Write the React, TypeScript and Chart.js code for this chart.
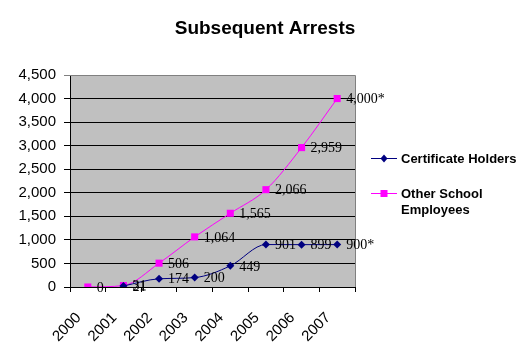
import React, { useEffect, useRef } from "react";
import { Chart, registerables } from "chart.js";

Chart.register(...registerables);

const title = "Subsequent Arrests";
const years = ["2000", "2001", "2002", "2003", "2004", "2005", "2006", "2007"];
const certHolders: (number | null)[] = [null, 21, 174, 200, 449, 901, 899, 900];
const otherEmployees: (number | null)[] = [0, 31, 506, 1064, 1565, 2066, 2959, 4000];
const certNotes = ["", "", "", "", "", "", "", "*"];
const otherNotes = ["", "", "", "", "", "", "", "*"];
const seriesNames = ["Certificate Holders", "Other School Employees"];
const legendLines = [["Certificate Holders"], ["Other School", "Employees"]];
const yMin = 0;
const yMax = 4500;
const yStep = 500;

const NAVY = "#000080";
const MAGENTA = "#FF00FF";
const SANS = '"Liberation Sans", Arial, sans-serif';
const SERIF = '"Liberation Serif", "Times New Roman", serif';

const fmt = (v: number) => v.toLocaleString("en-US");

const decorPlugin = {
  id: "decor",
  beforeDraw(chart: any) {
    const { ctx, chartArea } = chart;
    ctx.save();
    ctx.fillStyle = "#C0C0C0";
    ctx.fillRect(chartArea.left, chartArea.top, chartArea.right - chartArea.left, chartArea.bottom - chartArea.top);
    ctx.restore();
  },
  afterDatasetsDraw(chart: any) {
    const { ctx, chartArea } = chart;
    ctx.save();
    // top and right border
    ctx.strokeStyle = "#808080";
    ctx.lineWidth = 1;
    ctx.beginPath();
    ctx.moveTo(chartArea.left, chartArea.top + 0.5);
    ctx.lineTo(chartArea.right + 0.5, chartArea.top + 0.5);
    ctx.lineTo(chartArea.right + 0.5, chartArea.bottom);
    ctx.stroke();

    // data labels
    ctx.font = `14px ${SERIF}`;
    ctx.fillStyle = "#000";
    ctx.textAlign = "left";
    ctx.textBaseline = "middle";
    const notes = [certNotes, otherNotes];
    chart.data.datasets.forEach((ds: any, di: number) => {
      const meta = chart.getDatasetMeta(di);
      meta.data.forEach((pt: any, i: number) => {
        const v = ds.data[i];
        if (v === null || v === undefined) return;
        ctx.fillText(fmt(v) + notes[di][i], pt.x + 9, pt.y + 1);
      });
    });

    // title
    ctx.font = `bold 19px ${SANS}`;
    ctx.textAlign = "center";
    ctx.fillText(title, 265, 29);

    // legend
    const colors = [NAVY, MAGENTA];
    const styles = ["rectRot", "rect"];
    const ys = [158, 193];
    ctx.font = `bold 13px ${SANS}`;
    ctx.textAlign = "left";
    legendLines.forEach((lines, k) => {
      const y = ys[k];
      ctx.strokeStyle = colors[k];
      ctx.lineWidth = 1;
      ctx.beginPath();
      ctx.moveTo(371, y + 0.5);
      ctx.lineTo(397, y + 0.5);
      ctx.stroke();
      ctx.fillStyle = colors[k];
      if (styles[k] === "rect") {
        ctx.fillRect(384 - 3.5, y - 3, 7, 7);
      } else {
        ctx.beginPath();
        ctx.moveTo(384, y - 3.5);
        ctx.lineTo(387.5, y + 0.5);
        ctx.lineTo(384, y + 4.5);
        ctx.lineTo(380.5, y + 0.5);
        ctx.closePath();
        ctx.fill();
      }
      ctx.fillStyle = "#000";
      lines.forEach((line, j) => {
        ctx.fillText(line, 401, y + 1 + j * 16);
      });
    });
    ctx.restore();
  },
};

export default function App() {
  const ref = useRef<HTMLCanvasElement>(null);
  useEffect(() => {
    document.body.style.margin = "0";
    const canvas = ref.current!;
    const chart = new Chart(canvas, {
      type: "line",
      data: {
        labels: years,
        datasets: [
          {
            label: seriesNames[0],
            data: certHolders,
            borderColor: NAVY,
            backgroundColor: NAVY,
            borderWidth: 1,
            pointStyle: "rectRot",
            pointRadius: 4,
            pointBorderWidth: 0,
            cubicInterpolationMode: "monotone",
            spanGaps: false,
          },
          {
            label: seriesNames[1],
            data: otherEmployees,
            borderColor: MAGENTA,
            backgroundColor: MAGENTA,
            borderWidth: 1,
            pointStyle: "rect",
            pointRadius: 5,
            pointBorderWidth: 0,
            cubicInterpolationMode: "monotone",
          },
        ],
      },
      options: {
        responsive: false,
        animation: false,
        layout: { padding: { left: 0, right: 175, top: 75, bottom: 0 } },
        plugins: {
          legend: { display: false },
          title: { display: false },
          tooltip: { enabled: false },
        },
        scales: {
          x: {
            type: "category",
            offset: true,
            grid: {
              offset: true,
              drawOnChartArea: false,
              drawTicks: true,
              tickLength: 5,
              color: "#000",
            },
            border: { color: "#000", width: 1 },
            ticks: {
              color: "#000",
              font: { family: SANS, size: 15 },
              minRotation: 45,
              maxRotation: 45,
              labelOffset: -9,
              padding: 17,
              autoSkip: false,
            },
            afterFit: (scale: any) => {
              scale.height = 71;
            },
          },
          y: {
            min: yMin,
            max: yMax,
            grid: {
              color: (c: any) => (c.tick && c.tick.value === yMax ? "#808080" : "#000"),
              tickLength: 6,
              drawTicks: true,
            },
            border: { color: "#000", width: 1 },
            ticks: {
              stepSize: yStep,
              color: "#000",
              font: { family: SANS, size: 15 },
              padding: 8,
              callback: (v: any) => fmt(Number(v)),
            },
            afterFit: (scale: any) => {
              scale.width = 70;
            },
          },
        },
      },
      plugins: [decorPlugin],
    } as any);
    return () => chart.destroy();
  }, []);
  return <canvas ref={ref} width={530} height={358} style={{ display: "block" }} />;
}
